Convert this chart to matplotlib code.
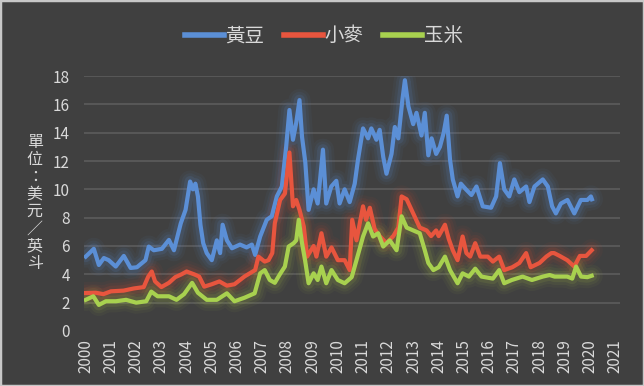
import matplotlib
matplotlib.use("Agg")
import matplotlib.pyplot as plt
from matplotlib.lines import Line2D
from matplotlib.patches import Rectangle

plt.rcParams['font.family'] = ['Noto Sans CJK TC', 'DejaVu Sans']

# ---- data (year, US$/bushel) ----
soy_t = [2000.00, 2000.32, 2000.52, 2000.72, 2000.91, 2001.19, 2001.51, 2001.78, 2002.03, 2002.37,
         2002.50, 2002.70, 2003.02, 2003.30, 2003.50, 2003.77, 2003.96, 2004.14, 2004.25, 2004.35,
         2004.45, 2004.55, 2004.66, 2004.80, 2005.00, 2005.20, 2005.33, 2005.43, 2005.60, 2005.80,
         2006.12, 2006.38, 2006.59, 2006.72, 2006.92, 2007.18, 2007.38, 2007.58, 2007.78, 2007.95,
         2008.08, 2008.22, 2008.35, 2008.48, 2008.58, 2008.71, 2008.84, 2009.04, 2009.20, 2009.28,
         2009.41, 2009.54, 2009.74, 2009.94, 2010.07, 2010.27, 2010.47, 2010.67, 2010.80, 2011.00,
         2011.20, 2011.33, 2011.53, 2011.66, 2011.80, 2011.93, 2012.13, 2012.26, 2012.40, 2012.56,
         2012.66, 2012.80, 2012.99, 2013.12, 2013.32, 2013.45, 2013.59, 2013.72, 2013.90, 2014.05,
         2014.20, 2014.32, 2014.45, 2014.56, 2014.75, 2014.88, 2015.08, 2015.30, 2015.50, 2015.75,
         2016.08, 2016.28, 2016.43, 2016.60, 2016.80, 2017.00, 2017.20, 2017.47, 2017.60, 2017.80,
         2018.13, 2018.33, 2018.50, 2018.65, 2018.85, 2019.11, 2019.38, 2019.64, 2019.90, 2020.04,
         2020.08]
soy_v = [5.25, 5.8, 4.66, 5.15, 5.0, 4.55, 5.3, 4.45, 4.5, 5.0,
         5.96, 5.7, 5.8, 6.43, 5.7, 7.6, 8.55, 10.55, 10.0, 10.4,
         9.5, 7.5, 6.2, 5.5, 5.0, 6.4, 5.5, 7.5, 6.4, 5.84,
         6.1, 5.9, 6.1, 5.37, 6.67, 7.85, 8.1, 9.5, 10.2, 13.0,
         15.6, 13.5, 14.7, 16.3, 13.7, 11.9, 8.55, 10.0, 9.0, 10.4,
         12.8, 9.0, 10.2, 10.6, 9.0, 10.0, 9.1, 10.4, 12.1, 14.3,
         13.6, 14.3, 13.5, 14.2, 12.3, 11.1, 12.5, 14.4, 13.6, 16.3,
         17.7, 15.85, 14.6, 15.4, 13.8, 15.4, 12.4, 13.6, 12.5, 13.0,
         14.0, 15.2, 12.1, 10.7, 9.5, 10.4, 10.0, 9.6, 10.2, 8.8,
         8.7, 9.5, 11.85, 10.0, 9.5, 10.7, 9.8, 10.2, 9.1, 10.2,
         10.7, 10.2, 8.8, 8.3, 9.0, 9.25, 8.3, 9.25, 9.25, 9.5,
         9.3]

wheat_t = [2000.00, 2000.40, 2000.70, 2001.00, 2001.50, 2001.90, 2002.30, 2002.48, 2002.62, 2002.75,
           2003.00, 2003.30, 2003.55, 2003.80, 2004.00, 2004.30, 2004.50, 2004.70, 2005.00, 2005.30,
           2005.60, 2005.90, 2006.30, 2006.72, 2006.85, 2007.10, 2007.25, 2007.40, 2007.50, 2007.71,
           2007.90, 2008.08, 2008.22, 2008.35, 2008.48, 2008.65, 2008.78, 2009.04, 2009.15, 2009.35,
           2009.54, 2009.75, 2010.00, 2010.27, 2010.47, 2010.57, 2010.74, 2011.00, 2011.12, 2011.27,
           2011.46, 2011.66, 2011.93, 2012.20, 2012.40, 2012.53, 2012.73, 2012.99, 2013.25, 2013.52,
           2013.70, 2013.90, 2014.00, 2014.25, 2014.40, 2014.56, 2014.75, 2014.95, 2015.10, 2015.25,
           2015.45, 2015.65, 2015.95, 2016.15, 2016.40, 2016.60, 2016.92, 2017.20, 2017.47, 2017.65,
           2018.00, 2018.27, 2018.47, 2018.58, 2018.80, 2019.10, 2019.38, 2019.60, 2019.85, 2020.07]
wheat_v = [2.68, 2.7, 2.6, 2.8, 2.85, 3.0, 3.1, 3.84, 4.2, 3.5,
           3.1, 3.4, 3.8, 4.0, 4.2, 4.0, 3.84, 3.13, 3.3, 3.5,
           3.2, 3.3, 3.85, 4.3, 5.25, 4.9, 5.0, 5.5, 7.6, 9.25,
           9.7, 12.6, 8.8, 9.25, 8.55, 7.37, 5.25, 6.0, 5.25, 6.9,
           5.25, 5.9, 5.0, 5.0, 4.3, 7.85, 6.4, 8.8, 7.85, 8.7,
           7.2, 6.7, 6.2, 6.7, 7.3, 9.5, 9.3, 8.3, 7.3, 7.1,
           6.7, 7.1, 6.7, 7.5, 6.5, 5.7, 5.0, 6.67, 5.5, 5.25,
           6.2, 5.25, 5.25, 4.9, 5.25, 4.3, 4.5, 4.8, 5.5, 4.5,
           4.8, 5.25, 5.5, 5.5, 5.3, 5.0, 4.55, 5.3, 5.3, 5.7]

corn_t = [2000.00, 2000.30, 2000.52, 2000.80, 2001.20, 2001.60, 2002.00, 2002.40, 2002.60, 2002.85,
          2003.30, 2003.60, 2003.90, 2004.22, 2004.45, 2004.80, 2005.20, 2005.60, 2005.90, 2006.30,
          2006.70, 2006.92, 2007.10, 2007.30, 2007.50, 2007.70, 2007.90, 2008.05, 2008.25, 2008.35,
          2008.45, 2008.58, 2008.70, 2008.84, 2009.04, 2009.20, 2009.35, 2009.54, 2009.75, 2010.00,
          2010.27, 2010.55, 2010.74, 2011.00, 2011.20, 2011.40, 2011.60, 2011.80, 2012.06, 2012.33,
          2012.53, 2012.73, 2012.99, 2013.25, 2013.45, 2013.59, 2013.79, 2014.00, 2014.25, 2014.45,
          2014.75, 2014.95, 2015.20, 2015.45, 2015.70, 2016.15, 2016.40, 2016.60, 2016.90, 2017.33,
          2017.70, 2018.13, 2018.40, 2018.60, 2019.10, 2019.30, 2019.45, 2019.65, 2019.90, 2020.07]
corn_v = [2.2, 2.45, 1.84, 2.1, 2.1, 2.2, 2.0, 2.1, 2.78, 2.45,
          2.45, 2.2, 2.6, 3.4, 2.7, 2.2, 2.2, 2.66, 2.1, 2.35,
          2.66, 4.07, 4.3, 3.6, 3.4, 4.0, 4.55, 5.96, 6.2, 6.4,
          7.85, 6.2, 5.0, 3.37, 4.07, 3.6, 4.55, 3.37, 4.3, 3.6,
          3.37, 3.8, 5.0, 6.67, 7.6, 6.67, 6.9, 5.96, 6.4, 5.7,
          8.1, 7.3, 7.1, 6.9, 5.7, 4.8, 4.3, 4.5, 5.25, 4.3,
          3.37, 4.07, 3.84, 4.4, 3.84, 3.7, 4.3, 3.37, 3.6, 3.84,
          3.6, 3.84, 3.95, 3.84, 3.84, 3.7, 4.55, 3.84, 3.8, 3.9]

series_names = ['黃豆', '小麥', '玉米']
years = list(range(2000, 2022))
y_ticks = list(range(0, 19, 2))
y_label = '單位：美元／英斗'

# ---- styling ----
BG = '#404040'
TXT = '#d9d9d9'
colors = ['#5B8FD6', '#E8553E', '#A8D14F']
glow = ['#5B8FD6', '#D84A30', '#A8C040']

fig = plt.figure(figsize=(6.44, 3.86), dpi=100, facecolor=BG)
fig.patches.append(Rectangle((0, 0), 1, 1, transform=fig.transFigure,
                             facecolor='none', edgecolor='#c8c8c8', lw=2.5, zorder=10))
ax = fig.add_axes([0.130, 0.1425, 0.833, 0.6606])
ax.set_facecolor(BG)

data = [(soy_t, soy_v), (wheat_t, wheat_v), (corn_t, corn_v)]
for (t, v), c, g in zip(data, colors, glow):
    for lw, a in [(16, 0.05), (12, 0.07), (8, 0.12)]:
        ax.plot(t, v, color=g, lw=lw, alpha=a, solid_joinstyle='round',
                solid_capstyle='round', zorder=2)
    ax.plot(t, v, color=c, lw=3.0, solid_joinstyle='round', zorder=3)

ax.set_xlim(1999.92, 2021.2)
ax.set_ylim(0, 18)
ax.set_yticks(y_ticks)
ax.set_xticks(years)
ax.set_xticklabels([str(y) for y in years], rotation=90)
for s in ax.spines.values():
    s.set_visible(False)
ax.tick_params(axis='both', length=0, colors=TXT, labelsize=11)
ax.tick_params(axis='y', pad=10)
ax.tick_params(axis='x', pad=6)
for y in y_ticks[1:]:
    ax.axhline(y, color='#5c5c5c', lw=1.2, zorder=1)

handles = [Line2D([0], [0], color=c, lw=4) for c in colors]
leg = fig.legend(handles, series_names, loc='center', bbox_to_anchor=(0.503, 0.907),
                 ncol=3, frameon=False, fontsize=14, handlelength=2.0,
                 handletextpad=0.1, columnspacing=1.0, labelcolor=TXT)

fig.text(0.054, 0.474, '\n'.join(y_label), ha='center', va='center',
         fontsize=11.5, color=TXT, linespacing=1.02)

fig.savefig('out.png', dpi=100, facecolor=BG)
